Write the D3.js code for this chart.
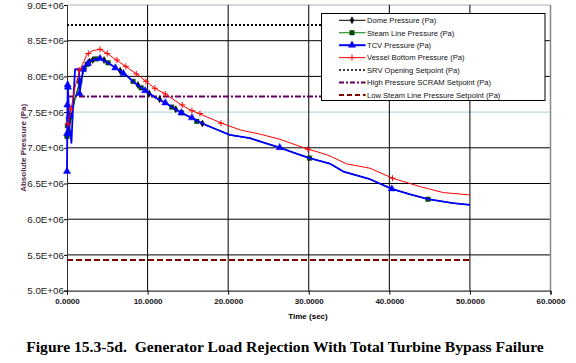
<!DOCTYPE html>
<html>
<head>
<meta charset="utf-8">
<script src="https://cdn.jsdelivr.net/npm/d3@7"></script>
<style>
  html, body { margin: 0; padding: 0; background: #fff; }
  svg { display: block; font-family: "Liberation Sans", Arial, sans-serif; }
</style>
</head>
<body>
<div id="chart"></div>
<script>
// time (s), pressure (MPa -> multiplied by 1e6 below)
const domeLine = [[0,7.16],[0.5,7.44],[1.0,7.7],[1.6,7.93],[2.2,8.11],[2.8,8.21],[3.5,8.245],[4.1,8.25],[5.1,8.19],[6.0,8.12],[7.2,8.03],[8.4,7.91],[9.7,7.80],[11.0,7.70],[12.2,7.63],[14.0,7.50],[15.3,7.43],[16.9,7.335],[18.5,7.26],[20.2,7.18],[22.7,7.134],[24.5,7.07],[26.4,7.003],[28.2,6.93],[30.1,6.855],[32.6,6.78],[34.3,6.667],[37.6,6.56],[40.3,6.425],[42.5,6.35],[44.8,6.28],[47.9,6.225],[50,6.20]];
const domeMarks = [[0,7.16],[0.1,7.22],[0.5,7.44],[1.6,7.93],[2.2,8.11],[2.8,8.21],[3.2,8.23],[4.6,8.23],[6.6,8.08],[8.8,7.88],[10.2,7.76],[11.5,7.68],[13.5,7.54],[16.8,7.34]];

const steamLine = [[0,7.15],[0.3,7.28],[0.6,7.45],[1.0,7.68],[1.6,7.92],[2.2,8.1],[2.8,8.2],[3.5,8.24],[4.1,8.25],[5.1,8.19],[6.0,8.12],[7.2,8.03],[8.4,7.91],[9.7,7.80],[11.0,7.70],[12.2,7.63],[14.0,7.50],[15.3,7.43],[16.9,7.335],[18.5,7.26],[20.2,7.18],[22.7,7.134],[24.5,7.07],[26.4,7.003],[28.2,6.93],[30.1,6.855],[32.6,6.78],[34.3,6.667],[37.6,6.56],[40.3,6.425],[42.5,6.35],[44.8,6.28],[47.9,6.225],[50,6.20]];
const steamMarks = [[0,7.16],[0.05,7.31],[0.2,7.39],[1.58,7.93],[2.5,8.17],[3.6,8.245],[5.1,8.19],[8.2,7.93],[9.2,7.84],[13.0,7.57],[14.2,7.49],[16.1,7.37],[30.1,6.855],[44.8,6.28]];

const tcvLine = [[0,6.67],[0.05,7.55],[0.1,7.92],[0.2,7.6],[0.3,7.3],[0.55,7.07],[0.8,7.7],[1.0,8.1],[1.5,8.1],[1.55,7.76],[2.0,8.1],[2.5,8.17],[3.0,8.22],[3.5,8.24],[4.1,8.25],[5.1,8.19],[6.0,8.12],[7.2,8.03],[8.4,7.91],[9.7,7.80],[11.0,7.70],[12.2,7.63],[14.0,7.50],[15.3,7.43],[16.9,7.335],[18.5,7.26],[20.2,7.18],[22.7,7.134],[24.5,7.07],[26.4,7.003],[28.2,6.93],[30.1,6.855],[32.6,6.78],[34.3,6.667],[37.6,6.56],[40.3,6.425],[42.5,6.35],[44.8,6.28],[47.9,6.225],[50,6.20]];
const tcvMarks = [[0,6.67],[0.02,7.2],[0.05,7.6],[0.08,7.88],[0.12,7.85],[0.3,7.45],[1.55,7.76],[2.0,8.1],[2.6,8.18],[4.1,8.25],[6.0,8.12],[7.0,8.04],[9.7,7.80],[12.2,7.63],[14.2,7.49],[15.5,7.42],[26.4,7.003],[40.3,6.425]];

const vesselLine = [[0,7.31],[0.5,7.54],[1.0,7.85],[1.6,8.09],[2.5,8.31],[3.2,8.36],[4.1,8.38],[5.0,8.32],[6.0,8.24],[7.2,8.146],[8.65,8.034],[9.8,7.93],[10.9,7.834],[12.2,7.754],[14.2,7.60],[15.3,7.53],[16.3,7.484],[19.2,7.344],[21.5,7.25],[24.0,7.19],[26.4,7.12],[29.9,6.98],[31.4,6.933],[32.6,6.887],[34.7,6.775],[37.6,6.714],[40.4,6.574],[43.8,6.457],[46.7,6.373],[50,6.34]];
const vesselMarks = [[0.16,7.33],[0.46,7.54],[1.5,8.09],[2.65,8.32],[4.1,8.38],[5.0,8.32],[6.2,8.23],[7.3,8.14],[8.6,8.034],[9.8,7.93],[10.9,7.834],[12.2,7.754],[14.3,7.60],[15.5,7.52],[16.5,7.48],[19.1,7.344],[29.9,6.98],[40.4,6.574]];

// setpoints (MPa), drawn from t = 0 to 50
const srvSetpoint = 8.72;
const scramSetpoint = 7.72;
const lowSteamSetpoint = 5.43;
const setpointSpan = [0, 50];

const xTicks = [0, 10, 20, 30, 40, 50, 60];
const yTicks = [5.0, 5.5, 6.0, 6.5, 7.0, 7.5, 8.0, 8.5, 9.0];

const legendLabels = ['Dome Pressure (Pa)', 'Steam Line Pressure (Pa)', 'TCV Pressure (Pa)', 'Vessel Bottom Pressure (Pa)',
  'SRV Opening Setpoint (Pa)', 'High Pressure SCRAM Setpoint (Pa)', 'Low Steam Line Pressure Setpoint (Pa)'];

const width = 576, height = 363;
const plotLeft = 67, plotRight = 550.5, plotTop = 5, plotBottom = 290.6;

const svg = d3.select('#chart').append('svg')
    .attr('width', width)
    .attr('height', height);

const x = d3.scaleLinear().domain([0, 60]).range([plotLeft, plotRight]);
const y = d3.scaleLinear().domain([5e6, 9e6]).range([plotBottom, plotTop]);

// grid
const grid = svg.append('g');
grid.selectAll('line.h')
    .data(yTicks.filter(v => v > 5.0))
    .join('line')
    .attr('x1', plotLeft).attr('x2', plotRight)
    .attr('y1', d => y(d * 1e6)).attr('y2', d => y(d * 1e6))
    .attr('stroke', d => d === 9.0 ? '#b8a8c0' : (d === 7.5 ? '#a8d0d0' : '#000'))
    .attr('stroke-width', 1);
grid.selectAll('line.v')
    .data(xTicks.filter(v => v > 0))
    .join('line')
    .attr('y1', plotTop).attr('y2', plotBottom)
    .attr('x1', d => x(d)).attr('x2', d => x(d))
    .attr('stroke', d => d === 60 ? '#888' : '#000')
    .attr('stroke-width', d => d === 60 ? 1.5 : 1);

// axes
const fmtY = d => d.toFixed(1) + 'E+06';
const yAxis = svg.append('g')
    .attr('transform', `translate(${plotLeft},0)`)
    .call(d3.axisLeft(y).tickValues(yTicks.map(v => v * 1e6)).tickSize(3).tickFormat(d => fmtY(d / 1e6)));
yAxis.select('.domain').attr('stroke', '#333');
yAxis.selectAll('text').attr('font-size', 9.8).attr('fill', '#222').attr('x', -3)
    .attr('font-family', '"Liberation Sans", Arial, sans-serif');

const xAxis = svg.append('g')
    .attr('transform', `translate(0,${plotBottom})`)
    .call(d3.axisBottom(x).tickValues(xTicks).tickSize(4).tickFormat(d => d.toFixed(4)));
xAxis.select('.domain').attr('stroke', '#000');
xAxis.selectAll('text').attr('font-size', 8).attr('font-weight', 'bold').attr('fill', '#111').attr('y', 8)
    .attr('font-family', '"Liberation Sans", Arial, sans-serif');

svg.append('text')
    .attr('x', 308).attr('y', 319)
    .attr('text-anchor', 'middle')
    .attr('font-size', 8).attr('font-weight', 'bold')
    .text('Time (sec)');

svg.append('text')
    .attr('transform', `translate(26,${(plotTop + plotBottom) / 2}) rotate(-90)`)
    .attr('text-anchor', 'middle')
    .attr('font-size', 8).attr('font-weight', 'bold').attr('fill', '#502848')
    .text('Absolute Pressure (Pa)');

// setpoint lines
const setpoints = [
    { v: srvSetpoint, stroke: '#000', dash: '2,2' },
    { v: scramSetpoint, stroke: '#660066', dash: '6,2,2,2' },
    { v: lowSteamSetpoint, stroke: '#800000', dash: '6,3' }
];
svg.append('g').selectAll('line')
    .data(setpoints)
    .join('line')
    .attr('x1', x(setpointSpan[0])).attr('x2', x(setpointSpan[1]))
    .attr('y1', d => y(d.v * 1e6)).attr('y2', d => y(d.v * 1e6))
    .attr('stroke', d => d.stroke)
    .attr('stroke-width', 2)
    .attr('stroke-dasharray', d => d.dash);

// curves
const line = d3.line().x(d => x(d[0])).y(d => y(d[1] * 1e6));
const series = [
    { line: domeLine, marks: domeMarks, color: '#000', width: 1, marker: 'diamond', mfill: '#000' },
    { line: steamLine, marks: steamMarks, color: '#008000', width: 1, marker: 'square', mfill: '#005000' },
    { line: tcvLine, marks: tcvMarks, color: '#0000ff', width: 1.8, marker: 'triangle', mfill: '#0000ff' },
    { line: vesselLine, marks: vesselMarks, color: '#ff0000', width: 1, marker: 'plus', mfill: '#ff0000' }
];

const symbols = {
    diamond: d3.symbol().type(d3.symbolDiamond).size(14),
    square: d3.symbol().type(d3.symbolSquare).size(20),
    triangle: d3.symbol().type(d3.symbolTriangle).size(22)
};

function drawMarker(g, type, fill, cx, cy) {
    if (type === 'plus') {
        g.append('path')
            .attr('d', `M${cx - 3},${cy}H${cx + 3}M${cx},${cy - 3}V${cy + 3}`)
            .attr('stroke', fill).attr('stroke-width', 1).attr('fill', 'none');
    } else {
        g.append('path')
            .attr('d', symbols[type]())
            .attr('transform', `translate(${cx},${cy})`)
            .attr('fill', fill)
            .attr('stroke', type === 'square' ? '#003000' : fill)
            .attr('stroke-width', 0.5);
    }
}

const curves = svg.append('g');
series.forEach(s => {
    curves.append('path')
        .datum(s.line)
        .attr('d', line)
        .attr('fill', 'none')
        .attr('stroke', s.color)
        .attr('stroke-width', s.width)
        .attr('stroke-linejoin', 'round');
    const mg = curves.append('g');
    s.marks.forEach(p => drawMarker(mg, s.marker, s.mfill, x(p[0]), y(p[1] * 1e6)));
});

// legend
const lg = svg.append('g');
lg.append('rect')
    .attr('x', 321.5).attr('y', 13.5).attr('width', 223.5).attr('height', 87)
    .attr('fill', '#fff').attr('stroke', '#000').attr('stroke-width', 1);

const legendStyles = [
    { stroke: '#000', width: 1, dash: null, marker: 'diamond', mfill: '#000' },
    { stroke: '#008000', width: 1, dash: null, marker: 'square', mfill: '#005000' },
    { stroke: '#0000ff', width: 2, dash: null, marker: 'triangle', mfill: '#0000ff' },
    { stroke: '#ff0000', width: 1, dash: null, marker: 'plus', mfill: '#ff0000' },
    { stroke: '#000', width: 1.5, dash: '2,2', marker: null },
    { stroke: '#660066', width: 2, dash: '5,2,2,2', marker: null },
    { stroke: '#800000', width: 2, dash: '5,3', marker: null }
];
const rowY = i => 20.3 + i * 12.45;
legendLabels.forEach((label, i) => {
    const st = legendStyles[i];
    const ry = rowY(i);
    lg.append('line')
        .attr('x1', 339).attr('x2', 365.5)
        .attr('y1', ry).attr('y2', ry)
        .attr('stroke', st.stroke).attr('stroke-width', st.width)
        .attr('stroke-dasharray', st.dash);
    if (st.marker) drawMarker(lg, st.marker, st.mfill, 352, ry);
    lg.append('text')
        .attr('x', 367).attr('y', ry + 2.8)
        .attr('font-size', 7.6).attr('fill', '#111')
        .text(label);
});

// caption
svg.append('text')
    .attr('x', 285).attr('y', 352)
    .attr('text-anchor', 'middle')
    .attr('xml:space', 'preserve')
    .style('white-space', 'pre')
    .attr('font-family', '"Liberation Serif", "Times New Roman", serif')
    .attr('font-size', 15.6).attr('font-weight', 'bold')
    .text('Figure 15.3-5d.  Generator Load Rejection With Total Turbine Bypass Failure');
</script>
</body>
</html>
